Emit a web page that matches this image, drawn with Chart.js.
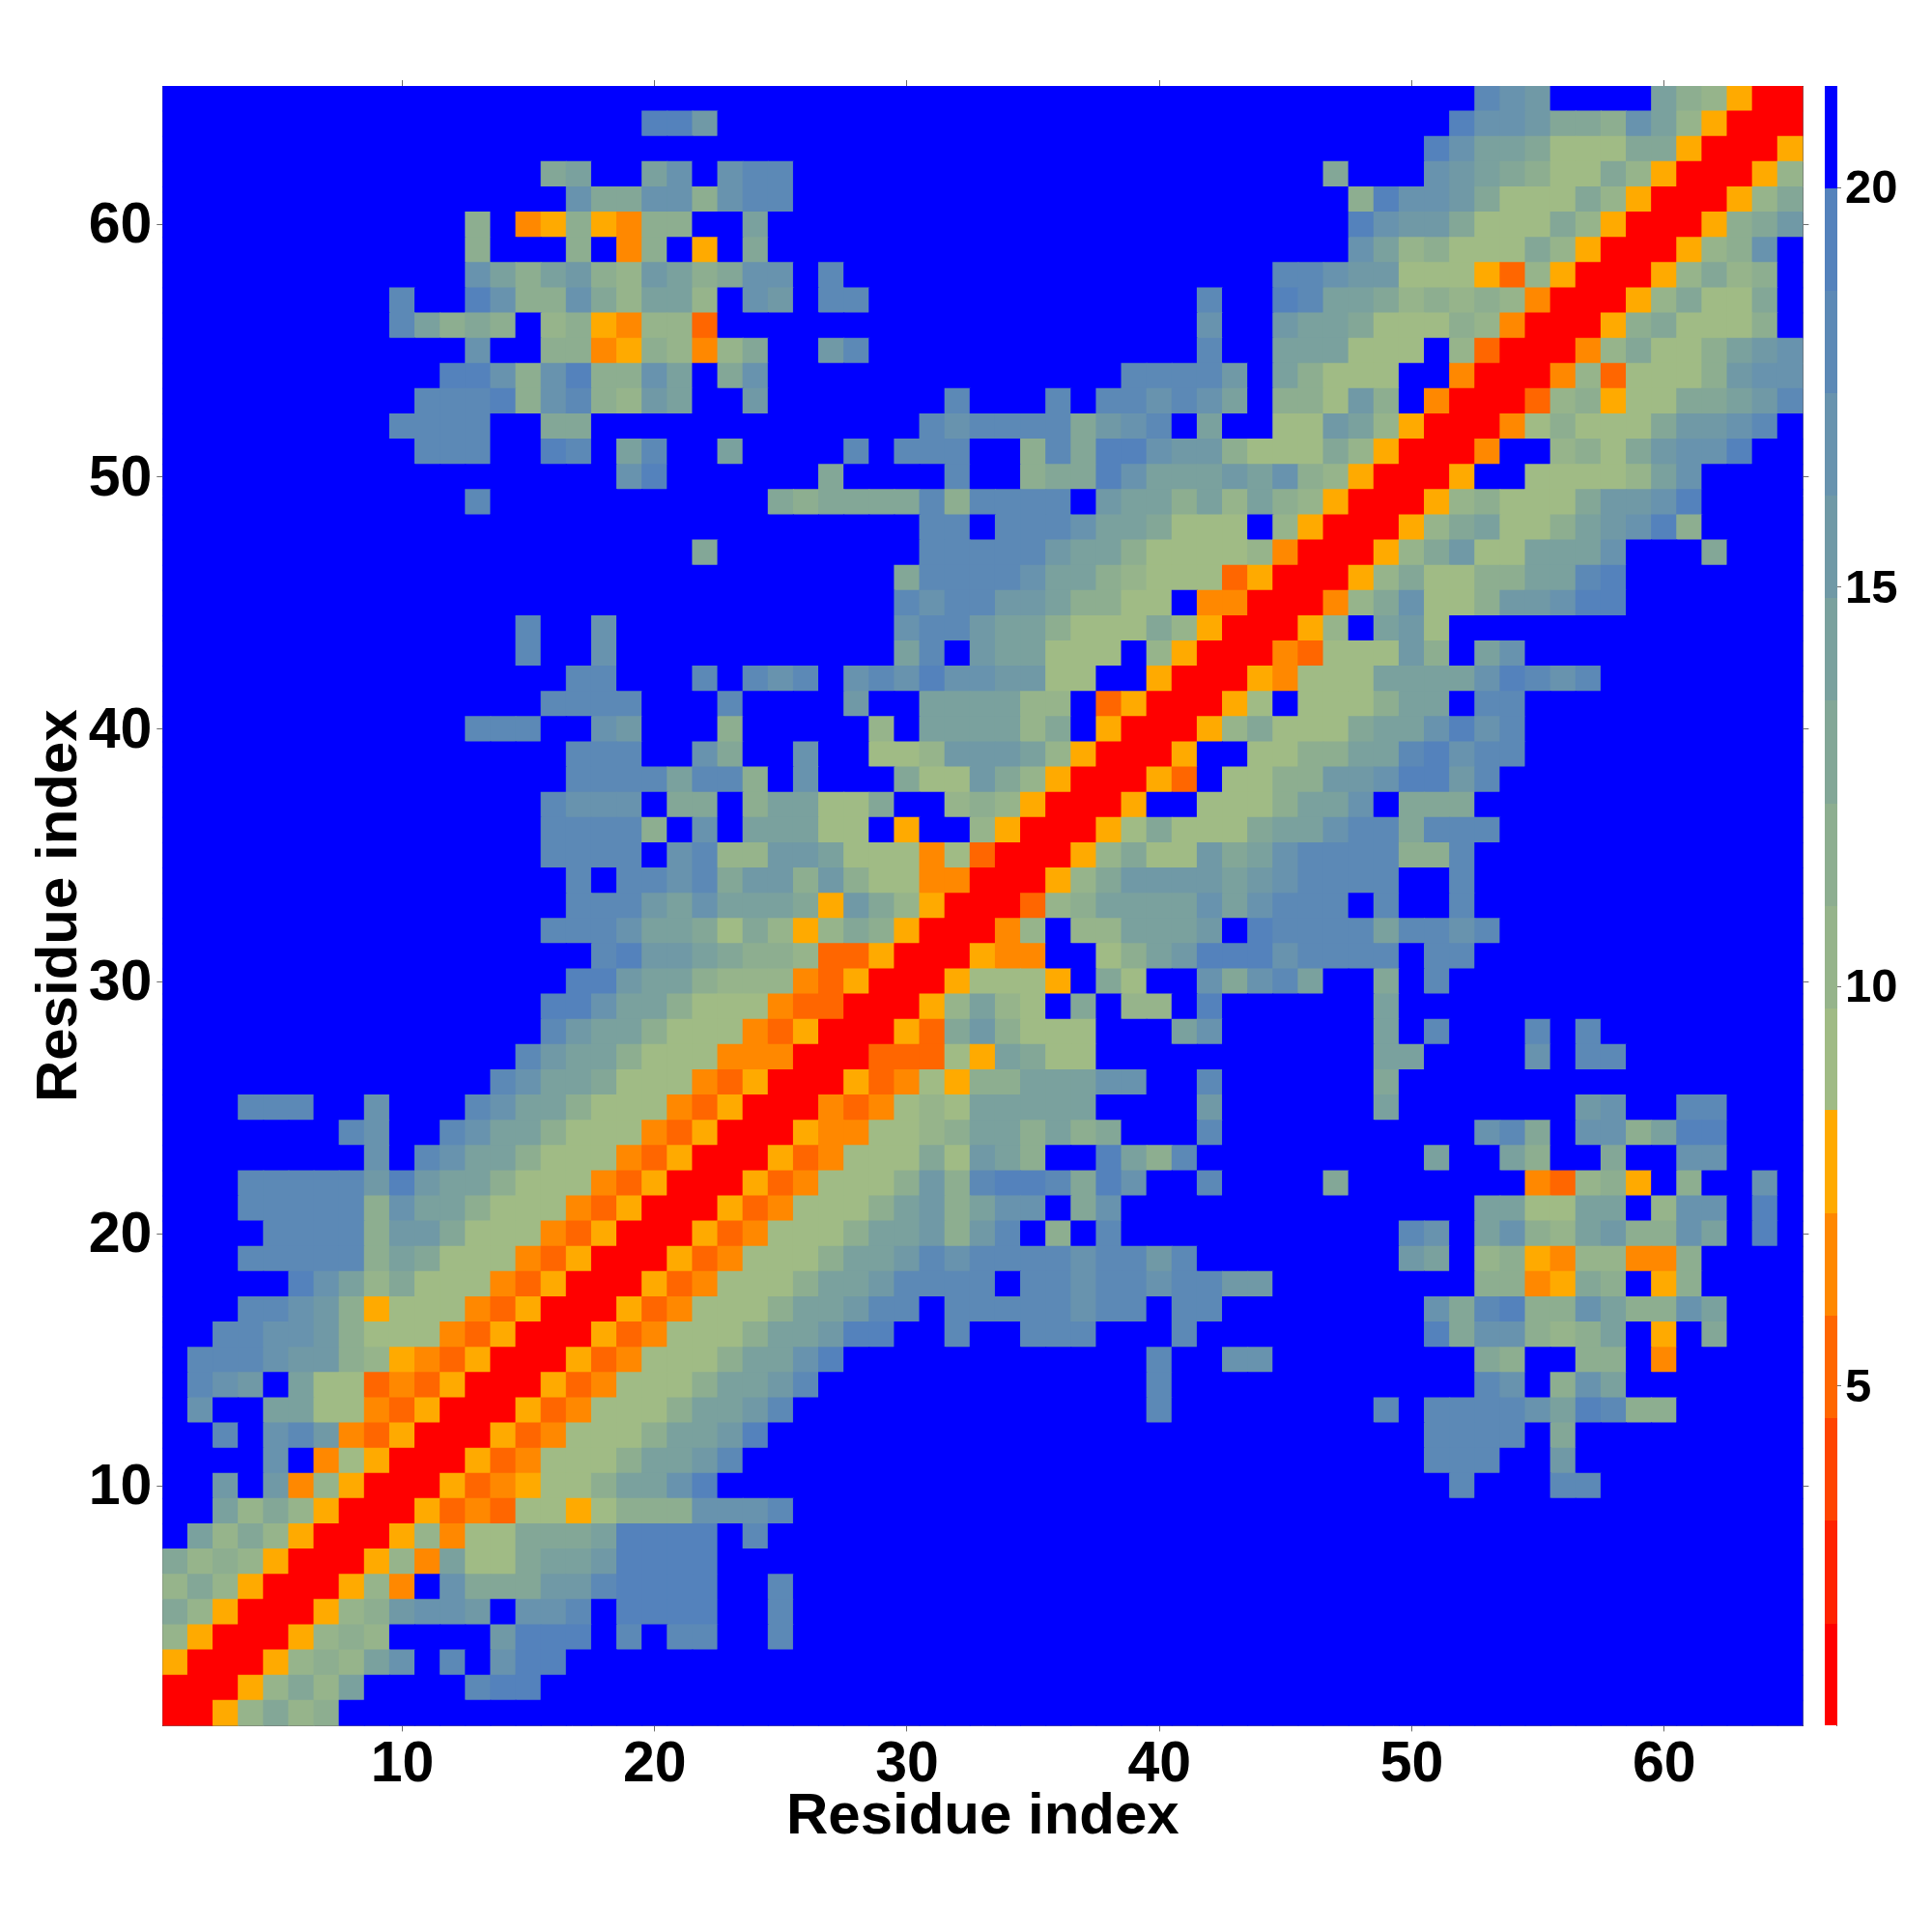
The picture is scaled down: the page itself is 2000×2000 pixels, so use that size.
<!DOCTYPE html>
<html>
<head>
<meta charset="utf-8">
<title>Residue contact map</title>
<script src="https://cdn.jsdelivr.net/npm/chart.js@4"></script>
<style>
  body { margin: 0; background: #fff; }
  canvas { display: block; }
</style>
</head>
<body>
<canvas id="chart" width="2000" height="2000"></canvas>
<script>
// band index per cell, top row (65) first. 0-9,a-e = band, '.' = top band (pure blue)
const rowsLeft = [ // columns 1-22
'......................','...................eeb','......................','...............9a..ac.','................c99cc8',
'............8.4585488.','............8...8.48.5','............ca8ab87ba8','.........d..ec88c97aa7','.........da898.7854773',
'............c..8845874','...........eec8ce88ca.','..........ddde8cd87ba.','.........dddd..99.....','..........ddd..ed.ad..',
'..................ce..','............d.........','......................','.....................9','......................',
'......................','..............d..c....','..............d..c....','................dd...d','...............dddd...',
'............ddd..cb...','................ddd..c','................ddddad','...............dccc.99','...............dddd8.c',
'...............dddd.cd','................d.ddcd','................dddbac','...............dddcaa9','.................debba',
'................eebaa8','...............eecaa86','...............dbaa866','..............dbaa8666','.............dcaa96664',
'...ddd..c...dcaa866643','.......dc..dcaa8666435','........c.dcaa86664350','...dddddbebaa866643500','...ddddd8caa8666435000',
'....dddd8bb96664350005','...ddddd8a966643500053','.....eca79666435000534','...ddcb856664350005346','..ddccb866643500053466',
'.dddcbb875435000534666','.dcb.a6634350005346668','.c..aa664350005346668a','..d.cdb4350005346668aa','....c.4650005346668aab',
'..b.b4750005345668aace','..a797500053436656888c','.a797500057466999aeeee','97875000574a669aabeeee','7975000574.c999bbdeeee',
'975000578bccb.ccd.eeee','750005787....beee.d.dd','50005787ac.d.cee......','0005797a....dee.......','0057978...............'
];
const rowsMid = [ // columns 23-44
'......................','......................','......................','cdd...................','cdd...................',
'.a....................','.9....................','9cc.d.................','.cb.dd.............d..','...................c..',
'79..bd.............d..','9c..............ddddb.','.b.......d...d.ddcdca.','........dcdddd9bcd.a..','a....d.ddd..8d9eecbb86',
'....9....d..899ecaaaba','..989999d8dddd.baa8a7a','........dd.dddcaa9666.','........dddddbaa866667','.......9ddddcaa8766635',
'.......dcddbba8866.440','.......cddbaa866697500','.......ad.baa666.75000','.dcd.cdceccbb66..50005','d....b..aaaa77.3500056',
'8.....7.aaaa79.5000579','9..c..667bbba750005..6','d8.c...966b97500053.66','.8aa669..78750005..666','.aaa66.5..750005696669',
'77bba66646300057966b9a','9bb8b86644000579bbbbab','aaa95b975000378aaaacac','6975798500047.77aaab.e','9887335000544..68abeee',
'77743500056665.96..c9c','6643300057a76.9.77.e..','6435000539b8666...ac..','44400033365a966.......','350005346588aaacc..d..',
'5000434676aaaaa....b..','0005446678aa8a89...d..','0053466696ba8..ea8d...','05346668b8deed9ec..d..','5346668ab8acc.9c......',
'346668aab8bd.8.d......','46668aabdcddddcddbd...','6668aabdddd.ddcddcddbb','668aabdd.dddddcdd.dd..','68aabee..d..ddd...d...',
'8aace............d..cc','aabd.............d....','abd..............d....','be....................','d.....................',
'......................','ccd...................','.d....................','......................','..d...................',
'..d...................','..d...................','......................','......................','......................'
];
const rowsRight = [ // columns 45-65
'........dcb....a87500','.......eccb998ca75000','......ecaa96669950005','..9...cba986697500057','...8eccb9666975000579',
'...ecbb9666975000589b','...ca78666975000578c.','ddcbb666537500057978.','edaa9787874000579669.','baa96668740005896668.',
'aaa666.73000479668abc','a8666..40004736668bcc','886b8.400037856699abd','66ba750004686669bbcd.','669750004..7869bcce..',
'c8750005..66667ac....','8750005786669bbce....','75000579a668abce8....','4000579b66aaac...9...','0005796688aade.......',
'00479c668bbcee.......','057.ab6..............','43666b8.ac...........','4666aaaacedcd........','.6668aa.dd...........',
'6669aacecd...........','688aadecdd...........','88bbceebd............','8aac.999.............','aacdd9ddd............',
'cdddd88d.............','cdddd..d.............','ddd.d..d.............','ddddaddcd............','cdddd.dd.............',
'da..9.d..............','....a................','....a.d...d.d........','....aa....c.dd.......','....9................',
'....a.......bc..dd...','........cd9.cc8aee...','......a..a8..9..cc...','..9.......43785.8..c.','........aa66aa.7cc.e.',
'.....dc.ac87ab88ca.e.','.....ba.785477448....','........884598.58....','......c9de88ca88ca...','......e9cc878a.5.9...',
'........98..88.4.....','........dc.8ca.......','....d.ddddcaed88.....','......dddd.9.........','......ddd..b.........',
'.......d...dd........','.....................','.....................','.....................','.....................',
'.....................','.....................','.....................','.....................','.....................'
];

const residueTicks = [10, 20, 30, 40, 50, 60];
const barTicks = [5, 10, 15, 20];
const bandEdges = [0.75, 2.03, 3.32, 4.6, 5.88, 7.16, 8.45, 9.73, 11.01, 12.29, 13.58, 14.86, 16.14, 17.42, 18.71, 19.99, 21.27];
const bandColors = ['#ff0000', '#ff2200', '#ff4400', '#ff6600', '#ff8800', '#ffaa00',
  '#a0bb85', '#96b48b', '#8dae90', '#83a797', '#7aa19e', '#7099a6', '#6893ae', '#5c89b6', '#5482bc', '#0000ff'];

const nRes = rowsLeft.length;
const cells = [];
for (let r = 0; r < nRes; r++) {
  const row = rowsLeft[r] + rowsMid[r] + rowsRight[r];
  for (let c = 0; c < nRes; c++) {
    const band = row[c] === '.' ? 15 : parseInt(row[c], 16);
    cells.push({ x: c + 1, y: nRes - r, v: (bandEdges[band] + bandEdges[band + 1]) / 2, band });
  }
}

const FONT = 'Liberation Sans';
const LINE = 'rgba(60,60,60,0.75)';

function residueAxis(position, size, showLabels, title, tickPad, labelOffset) {
  return {
    type: 'linear',
    position,
    min: 0.5,
    max: nRes + 0.5,
    afterBuildTicks: axis => { axis.ticks = residueTicks.map(v => ({ value: v })); },
    afterFit: axis => {
      if (axis.isHorizontal()) axis.height = size; else axis.width = size;
    },
    grid: { drawOnChartArea: false, tickLength: 6, tickWidth: 1, tickColor: LINE },
    border: { display: true, color: LINE, width: 1 },
    ticks: {
      display: showLabels,
      autoSkip: false,
      maxRotation: 0,
      padding: tickPad,
      labelOffset: labelOffset,
      color: '#000',
      font: { family: FONT, weight: 'bold', size: 59 },
      callback: v => String(v)
    },
    title: title
  };
}

// colour bar sits on its own value axis, right of the map
const colorBar = {
  id: 'colorBar',
  afterDraw(chart) {
    const s = chart.scales.cb;
    const ctx = chart.ctx;
    const left = s.left - 13;
    ctx.save();
    bandColors.forEach((col, i) => {
      const top = s.getPixelForValue(bandEdges[i + 1]);
      const bottom = s.getPixelForValue(bandEdges[i]);
      ctx.fillStyle = col;
      ctx.fillRect(left, Math.round(top), 13, Math.round(bottom) - Math.round(top));
    });
    ctx.restore();
  }
};

new Chart(document.getElementById('chart').getContext('2d'), {
  type: 'scatter',
  data: {
    datasets: [{
      label: 'Residue distance',
      data: cells,
      pointStyle: 'rect',
      pointBorderWidth: 0,
      pointRadius: c => {
        const x = c.chart.scales.x;
        return (x.getPixelForValue(2) - x.getPixelForValue(1) + 1) / Math.SQRT2;
      },
      pointBackgroundColor: c => bandColors[c.raw.band],
      xAxisID: 'x',
      yAxisID: 'y'
    }]
  },
  options: {
    responsive: false,
    animation: false,
    events: [],
    layout: { padding: 0 },
    plugins: { legend: { display: false }, tooltip: { enabled: false } },
    scales: {
      x: residueAxis('bottom', 213.6, true, {
        display: true, text: 'Residue index', color: '#000',
        font: { family: FONT, weight: 'bold', size: 60, lineHeight: 1.2 },
        padding: { top: 0, bottom: 83 }
      }, 0, 0),
      y: residueAxis('left', 168.3, true, {
        display: true, text: 'Residue index', color: '#000',
        font: { family: FONT, weight: 'bold', size: 60, lineHeight: 1.2 },
        padding: { top: 26, bottom: 0 }
      }, 5, 2.5),
      x2: residueAxis('top', 89, false, { display: false }, 0, 0),
      y2: Object.assign(residueAxis('right', 35.6, false, { display: false }, 0, 0), { weight: 0 }),
      cb: {
        type: 'linear',
        position: 'right',
        weight: 1,
        min: bandEdges[0],
        max: bandEdges[bandEdges.length - 1],
        afterBuildTicks: axis => { axis.ticks = barTicks.map(v => ({ value: v })); },
        afterFit: axis => { axis.width = 98; },
        grid: { drawOnChartArea: false, tickLength: 4, tickWidth: 1, tickColor: LINE },
        border: { display: true, color: LINE, width: 1 },
        ticks: {
          autoSkip: false,
          padding: 4,
          labelOffset: 2.5,
          color: '#000',
          font: { family: FONT, weight: 'bold', size: 49 },
          callback: v => String(v)
        }
      }
    }
  },
  plugins: [colorBar]
});
</script>
</body>
</html>
